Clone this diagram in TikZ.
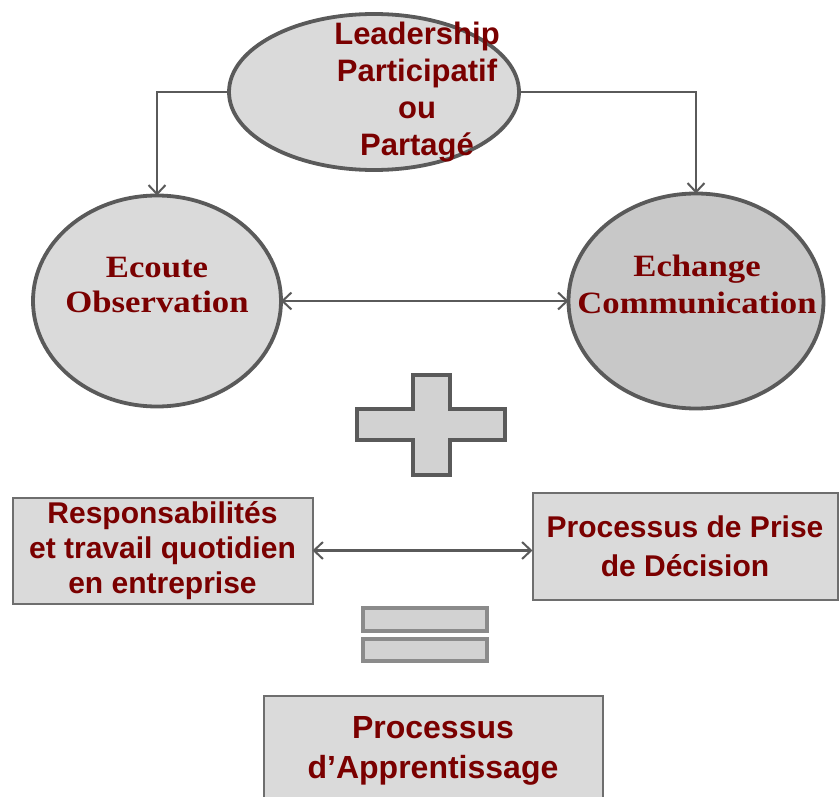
\documentclass[tikz,border=0pt]{standalone}
\usepackage{fontspec}
\setmainfont{Liberation Sans}
\newfontfamily\circfont{Liberation Serif}[FakeStretch=1.12]
\usetikzlibrary{arrows.meta,shapes.geometric}
\definecolor{txt}{HTML}{7A0000}
\definecolor{edge}{HTML}{5A5A5A}
\definecolor{boxedge}{HTML}{6E6E6E}
\definecolor{fillA}{HTML}{DADADA}
\definecolor{fillB}{HTML}{C8C8C8}
\definecolor{fillS}{HTML}{D2D2D2}
\begin{document}
\begin{tikzpicture}[x=1pt,y=-1pt,
  bigshape/.style={ellipse, draw=edge, line width=3.8pt, inner sep=0pt, outer sep=0pt},
  boxshape/.style={rectangle, draw=boxedge, line width=2pt, fill=fillA, inner sep=0pt, outer sep=0pt,
    text=txt, align=center, font=\bfseries},
  barb/.tip={Straight Barb[length=9pt,width=17pt,line width=2pt]},
  conn/.style={draw=edge, line width=2.2pt, -barb},
  dconn/.style={draw=edge, line width=2.2pt, barb-barb},
  symb/.style={draw=edge, line width=3.8pt, fill=fillS, line join=miter},
  eqbar/.style={draw=edge!70, line width=3.8pt, fill=fillS}
]
\useasboundingbox (0,0) rectangle (840,797);
\clip (0,0) rectangle (840,797);

% top ellipse
\node[bigshape, fill=fillA, minimum width=290, minimum height=156] (lead) at (374,92) {};
\node[text=txt, align=center, font=\bfseries\fontsize{31}{37}\selectfont] (leadtxt) at (417,92)
  {Leadership\\Participatif\\ou\\Partagé};

% circles
\node[bigshape, fill=fillA, minimum width=248, minimum height=211] (obs) at (157,301) {};
\node[text=txt, align=center, font=\circfont\bfseries\fontsize{31}{35}\selectfont] (obstxt) at (157,285)
  {Ecoute\\Observation};
\node[bigshape, fill=fillB, minimum width=255, minimum height=215] (comm) at (696,301) {};
\node[text=txt, align=center, font=\circfont\bfseries\fontsize{31}{37}\selectfont] (commtxt) at (697,284)
  {Echange\\Communication};

\draw[conn] (lead.west) -| (obs.north);
\draw[conn] (lead.east) -| (comm.north);
\draw[dconn] (obs.east) -- (comm.west);

% plus sign
\draw[symb] (413,375) -- (450,375) -- (450,409) -- (505,409) -- (505,440) -- (450,440)
  -- (450,475) -- (413,475) -- (413,440) -- (357,440) -- (357,409) -- (413,409) -- cycle;

% boxes
\node[boxshape, minimum width=300, minimum height=106, font=\bfseries\fontsize{30}{35}\selectfont] (resp) at (162.5,550.5)
  {Responsabilités\\et travail quotidien\\en entreprise};
\node[boxshape, minimum width=305, minimum height=107, font=\bfseries\fontsize{30}{39}\selectfont] (proc) at (685,546)
  {Processus de Prise\\de Décision};
\draw[dconn] (resp.east) -- (resp.east -| proc.west);

% equals sign
\draw[eqbar] (363,608) rectangle (487,631);
\draw[eqbar] (363,639) rectangle (487,661);

% bottom box
\node[boxshape, minimum width=339, minimum height=110, font=\bfseries\fontsize{32}{40}\selectfont] (app) at (433,751)
  {Processus\\d’Apprentissage};
\end{tikzpicture}
\end{document}
